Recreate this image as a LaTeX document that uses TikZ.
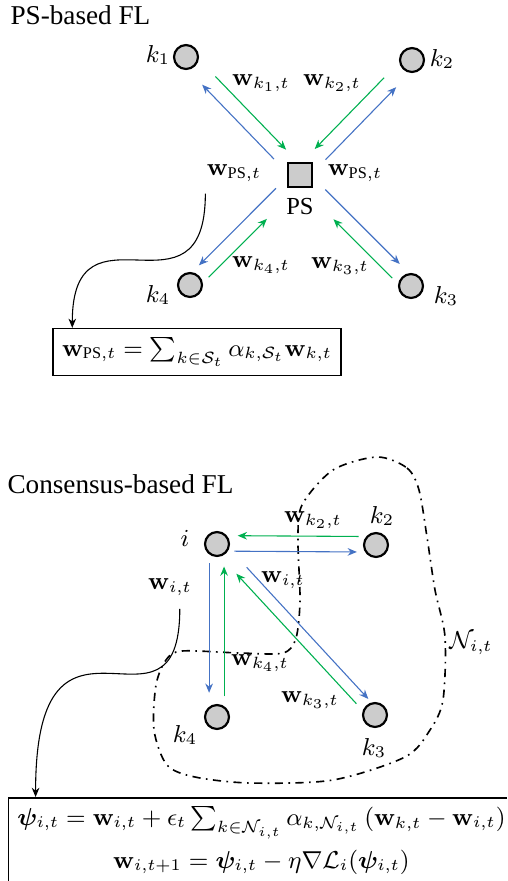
\documentclass[tikz,border=0pt]{standalone}
\usepackage{amsmath, amssymb}
\usepackage{bm}
\usepackage[no-math]{fontspec}
\setmainfont{Liberation Serif}
\usetikzlibrary{arrows.meta, positioning, calc}

\definecolor{outblue}{RGB}{68,114,196}
\definecolor{ingreen}{RGB}{0,176,80}

\tikzset{
    client/.style={circle, draw, thick, fill=gray!40, minimum size=8.8pt, inner sep=0pt},
    server/.style={rectangle, draw, thick, fill=gray!40, minimum size=9.1pt, inner sep=0pt},
    outmsg/.style={-{Stealth[length=3.4pt,width=2.8pt]}, outblue},
    inmsg/.style={-{Stealth[length=3.4pt,width=2.8pt]}, ingreen},
    pointer/.style={-{Stealth[length=3.4pt,width=2.8pt]}},
    eqbox/.style={draw, semithick},
    nbhd/.style={semithick, dash dot},
    heading/.style={anchor=base west, inner sep=0pt, font=\normalsize},
}

\begin{document}
\begin{tikzpicture}[x=0.3676pt, y=-0.3676pt, every node/.style={font=\small}]
    \useasboundingbox (0,0) rectangle (507,881);
    \clip (0,0) rectangle (507,881);

    % PS-based FL
    \node[heading] (title1) at (10,24) {PS-based FL};
    \node[server] (ps) at (300,175) {};
    \node[below=0pt of ps] (pslab) {PS};
    \node[client] (k1) at (186,57) {};
    \node[client] (k2) at (412,60) {};
    \node[client] (k3) at (411,286) {};
    \node[client] (k4) at (190,285) {};
    \node (k1lab) at (158,55) {$k_1$};
    \node (k2lab) at (442,59) {$k_2$};
    \node (k3lab) at (446,296) {$k_3$};
    \node (k4lab) at (158,295) {$k_4$};

    \draw[outmsg] ($(ps)!.18!(k1)!2.8pt!90:(k1)$) -- ($(ps)!.81!(k1)!2.8pt!90:(k1)$);
    \draw[inmsg] ($(ps)!.79!(k1)!2.8pt!-90:(k1)$) -- ($(ps)!.17!(k1)!2.8pt!-90:(k1)$);
    \draw[outmsg] ($(ps)!.18!(k2)!2.8pt!-90:(k2)$) -- ($(ps)!.81!(k2)!2.8pt!-90:(k2)$);
    \draw[inmsg] ($(ps)!.80!(k2)!2.8pt!90:(k2)$) -- ($(ps)!.18!(k2)!2.8pt!90:(k2)$);
    \draw[outmsg] ($(ps)!.18!(k3)!2.8pt!90:(k3)$) -- ($(ps)!.85!(k3)!2.8pt!90:(k3)$);
    \draw[inmsg] ($(ps)!.88!(k3)!2.8pt!-90:(k3)$) -- ($(ps)!.35!(k3)!2.8pt!-90:(k3)$);
    \draw[outmsg] ($(ps)!.17!(k4)!2.8pt!-90:(k4)$) -- ($(ps)!.87!(k4)!2.8pt!-90:(k4)$);
    \draw[inmsg] ($(ps)!.88!(k4)!2.8pt!90:(k4)$) -- ($(ps)!.35!(k4)!2.8pt!90:(k4)$);

    \node (wk1) at (261,83) {$\mathbf{w}_{k_1,t}$};
    \node (wk2) at (332,83) {$\mathbf{w}_{k_2,t}$};
    \node (wk3) at (340,266) {$\mathbf{w}_{k_3,t}$};
    \node (wk4) at (261,265) {$\mathbf{w}_{k_4,t}$};
    \node (wpsL) at (234,173) {$\mathbf{w}_{\text{PS},t}$};
    \node (wpsR) at (355,173) {$\mathbf{w}_{\text{PS},t}$};

    \node[eqbox] (sumbox) at (197,352)
        {$\mathbf{w}_{\text{PS},t} = \sum_{k\in\mathcal{S}_t}\alpha_{k,\mathcal{S}_t}\mathbf{w}_{k,t}$};
    \draw[pointer] ([xshift=3pt,yshift=-1pt]wpsL.south west)
        .. controls +(0,135) and +(0,-135) .. ([xshift=7.4pt]sumbox.north west);

    % Consensus-based FL
    \node[heading] (title2) at (7,493) {Consensus-based FL};
    \draw[nbhd] plot[smooth cycle] coordinates {(377,457) (407,468) (419,490) (427,537)
        (435,590) (445,637) (443,700) (430,730) (405,757) (333,780) (250,783) (195,777)
        (167,765) (154,730) (156,685) (166,660) (182,651) (240,653) (283,653) (296,638)
        (300,600) (298,540) (302,505) (333,470)};
    \node (nlab) at (471,643) {$\mathcal{N}_{i,t}$};

    \node[client] (i) at (217,544) {};
    \node[client] (n2) at (376,545) {};
    \node[client] (n3) at (375,715) {};
    \node[client] (n4) at (217,717) {};
    \node (ilab) at (185,538) {$i$};
    \node (n2lab) at (382,516) {$k_2$};
    \node (n3lab) at (374,748) {$k_3$};
    \node (n4lab) at (185,735) {$k_4$};

    \draw[inmsg] ($(i)!.89!(n2)!3.1pt!90:(n2)$) -- ($(i)!.13!(n2)!3.1pt!90:(n2)$);
    \draw[outmsg] ($(i)!.11!(n2)!2.6pt!-90:(n2)$) -- ($(i)!.88!(n2)!2.6pt!-90:(n2)$);
    \draw[outmsg] ($(i)!.11!(n4)!2.9pt!-90:(n4)$) -- ($(i)!.86!(n4)!2.9pt!-90:(n4)$);
    \draw[inmsg] ($(i)!.88!(n4)!2.6pt!90:(n4)$) -- ($(i)!.13!(n4)!2.6pt!90:(n4)$);
    \draw[outmsg] ($(i)!.16!(n3)!2.2pt!90:(n3)$) -- ($(i)!.93!(n3)!2.2pt!90:(n3)$);
    \draw[inmsg] ($(i)!.91!(n3)!2.2pt!-90:(n3)$) -- ($(i)!.15!(n3)!2.2pt!-90:(n3)$);

    \node (wk2b) at (313,520) {$\mathbf{w}_{k_2,t}$};
    \node (wiR) at (283,580) {$\mathbf{w}_{i,t}$};
    \node (wiL) at (170,587) {$\mathbf{w}_{i,t}$};
    \node (wk4b) at (260,663) {$\mathbf{w}_{k_4,t}$};
    \node (wk3b) at (310,700) {$\mathbf{w}_{k_3,t}$};

    \node[eqbox, anchor=north, align=center] (updbox) at (261.5,797)
        {$\bm{\psi}_{i,t} = \mathbf{w}_{i,t} + \epsilon_t\sum_{k\in\mathcal{N}_{i,t}}\alpha_{k,\mathcal{N}_{i,t}}\left(\mathbf{w}_{k,t}-\mathbf{w}_{i,t}\right)$\\[3pt]
         $\mathbf{w}_{i,t+1} = \bm{\psi}_{i,t} - \eta\nabla\mathcal{L}_i(\bm{\psi}_{i,t})$};
    \draw[pointer] ([xshift=3.6pt,yshift=-1.4pt]wiL.south)
        .. controls +(0,150) and +(0,-227) .. ([xshift=10.3pt]updbox.north west);
\end{tikzpicture}
\end{document}
